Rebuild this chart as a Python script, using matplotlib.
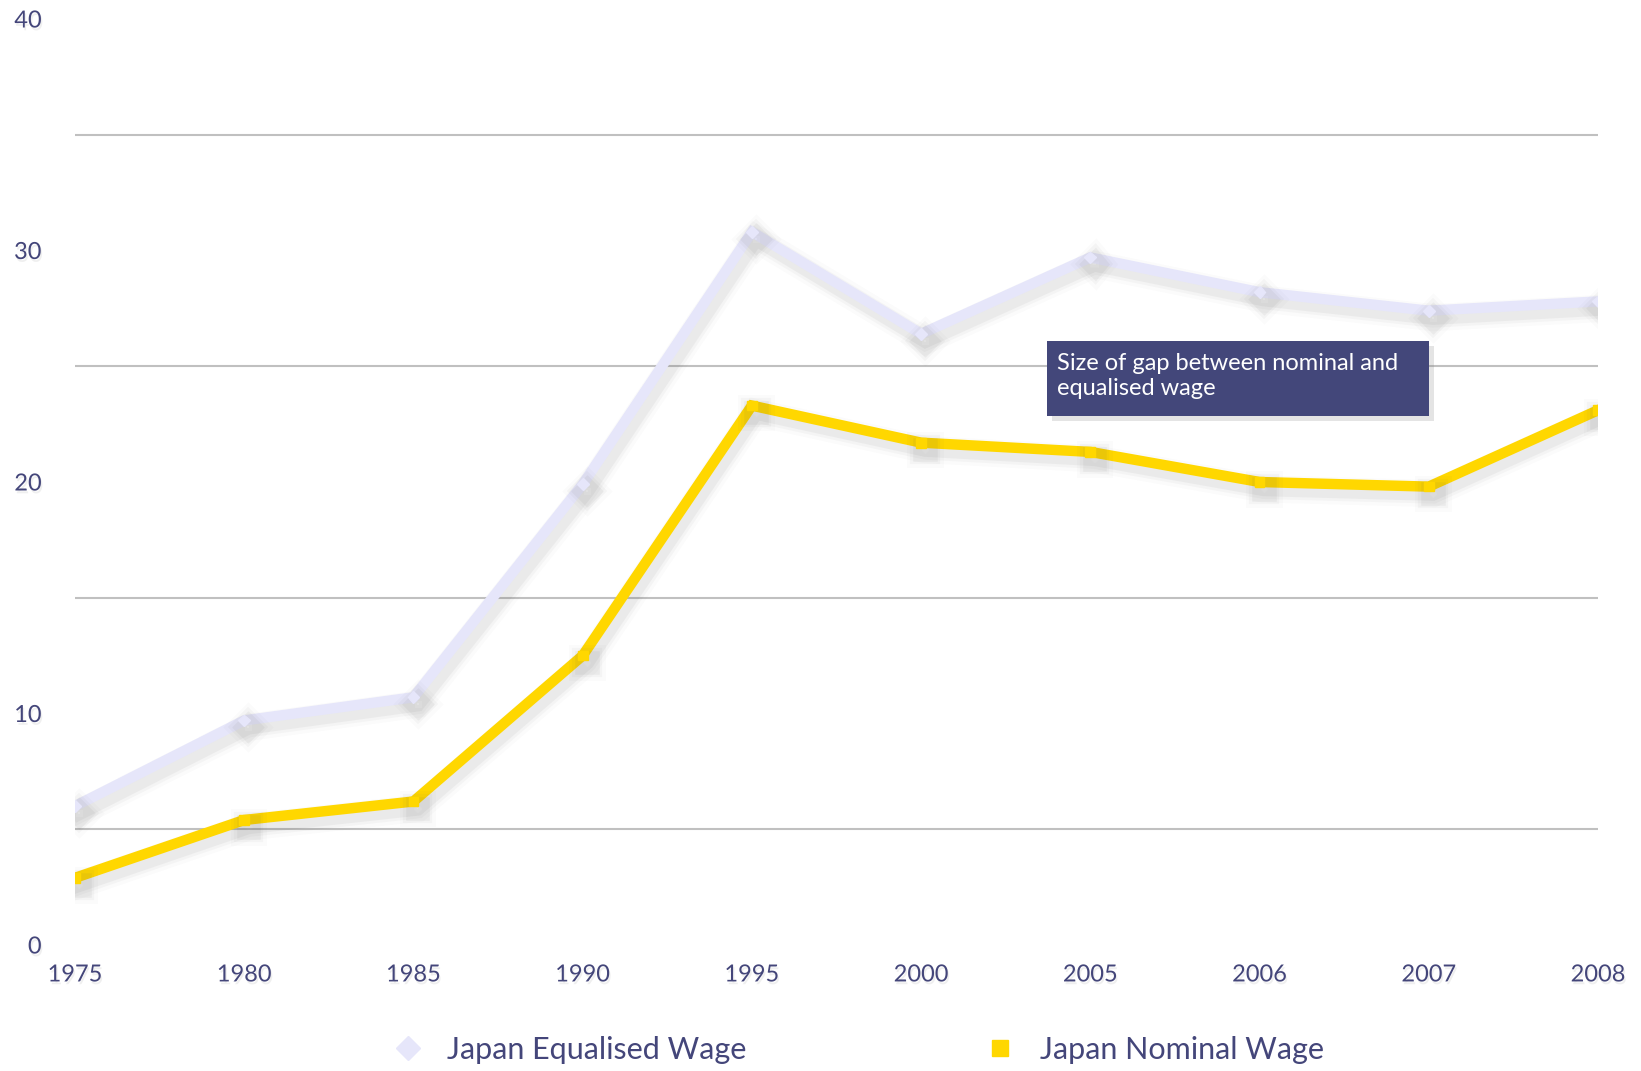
import matplotlib
matplotlib.use("Agg")
import matplotlib.pyplot as plt
import matplotlib.patheffects as pe
from matplotlib.patches import Rectangle
import numpy as np

plt.rcParams['font.family'] = ['Lato', 'DejaVu Sans']

# data
years = ['1975', '1980', '1985', '1990', '1995', '2000', '2005', '2006', '2007', '2008']
equalised = [6.0, 9.7, 10.7, 19.9, 30.8, 26.4, 29.7, 28.2, 27.4, 27.8]
nominal = [2.9, 5.4, 6.2, 12.5, 23.3, 21.7, 21.3, 20.0, 19.8, 23.1]
ytick_vals = [0, 10, 20, 30, 40]
grid_vals = [5, 15, 25, 35]

txt_col = '#44467a'
eq_col = '#e6e6fa'
nom_col = '#ffd700'

fig = plt.figure(figsize=(16.41, 10.71), dpi=100)
ax = fig.add_axes([75 / 1641, 126 / 1071, 1523 / 1641, 926 / 1071])

x = np.arange(len(years))


def shadow(lw):
    # fake blurred drop shadow: several faint wide strokes
    effs = []
    for extra, a in [(12, 0.025), (7, 0.04), (3, 0.06)]:
        effs.append(pe.SimpleLineShadow(offset=(3, -5), shadow_color='#555555',
                                        alpha=a, linewidth=lw + extra))
    effs.append(pe.Normal())
    return effs


for g in grid_vals:
    ax.axhline(g, color='#c0c0c0', lw=1.5, zorder=1)

ax.plot(x, equalised, color=eq_col, lw=7.5, marker='D', markersize=6,
        solid_joinstyle='miter', label='Japan Equalised Wage', zorder=3,
        path_effects=shadow(7.5))
ax.plot(x, nominal, color=nom_col, lw=7.5, marker='s', markersize=7,
        solid_joinstyle='miter', label='Japan Nominal Wage', zorder=4,
        path_effects=shadow(7.5))

ax.set_xlim(0, len(years) - 1)
ax.set_ylim(0, 40)
ax.set_xticks(x)
ax.set_xticklabels(years)
ax.set_yticks(ytick_vals)
ax.set_yticklabels([str(v) for v in ytick_vals])
ax.tick_params(axis='both', length=0, colors=txt_col, labelsize=17)
ax.tick_params(axis='y', pad=24)
ax.tick_params(axis='x', pad=14)
for s in ax.spines.values():
    s.set_visible(False)
ax.patch.set_alpha(0)

for lab in ax.get_xticklabels() + ax.get_yticklabels():
    lab.set_path_effects([pe.withSimplePatchShadow(offset=(1, -2), shadow_rgbFace='#999999', alpha=0.15)])

# callout box
fig.patches.append(Rectangle((1052 / 1641, 1 - 421 / 1071), 382 / 1641, 75 / 1071,
                             transform=fig.transFigure, facecolor='#888888',
                             alpha=0.22, edgecolor='none', zorder=5))
fig.patches.append(Rectangle((1047 / 1641, 1 - 416 / 1071), 382 / 1641, 75 / 1071,
                             transform=fig.transFigure, facecolor='#43477a',
                             edgecolor='none', zorder=6))
fig.text(1057 / 1641, 1 - 353 / 1071, 'Size of gap between nominal and\nequalised wage',
         color='white', fontsize=17, va='top', ha='left', linespacing=1.25, zorder=7)

leg = fig.legend(loc='center', bbox_to_anchor=(0.523, 1 - 1050 / 1071), ncol=2,
                 frameon=False, fontsize=22, labelcolor=txt_col, columnspacing=7.8,
                 handlelength=1.0, handletextpad=0.8)
for h in leg.legend_handles:
    h.set_linestyle('none')
    h.set_markersize(12)
    h.set_path_effects([])

fig.savefig('out.png', dpi=100, facecolor='white')
